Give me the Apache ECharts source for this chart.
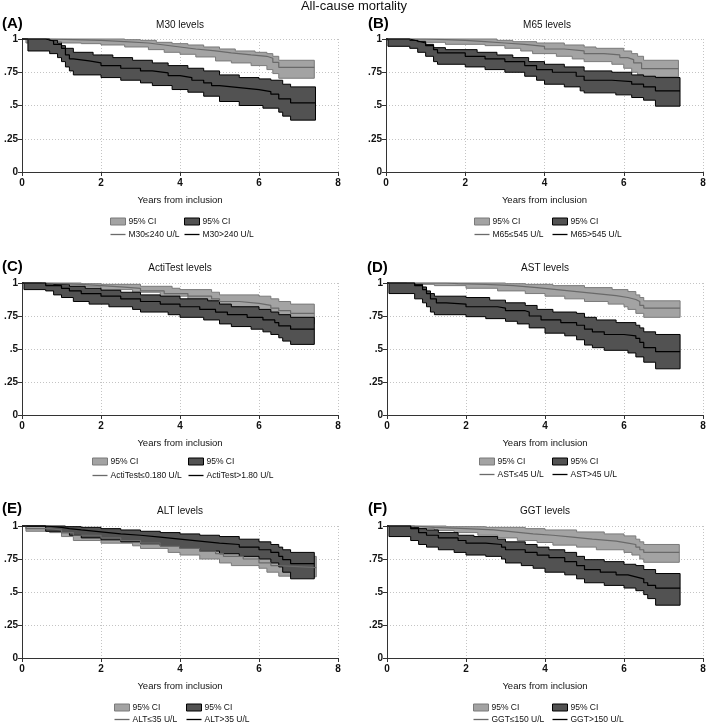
<!DOCTYPE html>
<html>
<head>
<meta charset="utf-8">
<title>All-cause mortality</title>
<script src="https://cdn.jsdelivr.net/npm/echarts@6/dist/echarts.min.js"></script>
<style>
  html, body { margin: 0; padding: 0; background: #fff; }
  #chart { width: 709px; height: 726px; }
</style>
</head>
<body>
<div id="chart"></div>
<script>
// labels
const mainTitle = 'All-cause mortality';
const panelLetters = ['(A)', '(B)', '(C)', '(D)', '(E)', '(F)'];
const panelTitles = ['M30 levels', 'M65 levels', 'ActiTest levels', 'AST levels', 'ALT levels', 'GGT levels'];
const lowLabels = ['M30≤240 U/L', 'M65≤545 U/L', 'ActiTest≤0.180 U/L', 'AST≤45 U/L', 'ALT≤35 U/L', 'GGT≤150 U/L'];
const highLabels = ['M30>240 U/L', 'M65>545 U/L', 'ActiTest>1.80 U/L', 'AST>45 U/L', 'ALT>35 U/L', 'GGT>150 U/L'];
const ciLabel = '95% CI';
const xAxisTitle = 'Years from inclusion';
const yTickText = ['0', '.25', '.5', '.75', '1'];

// survival curves: [years, survival]
// _S = estimate, _L = lower 95% limit, _U = upper 95% limit
const m30Low_S = [[0,1],[0.7,0.995],[1.3,0.99],[2.0,0.98],[2.6,0.97],[3.2,0.955],[3.6,0.94],[4.0,0.925],[4.4,0.91],[4.9,0.895],[5.3,0.88],[5.8,0.87],[6.2,0.855],[6.35,0.825],[6.5,0.787],[7.4,0.787]];
const m30Low_L = [[0,1],[0.1,0.97],[0.25,0.98],[1.0,0.97],[1.5,0.965],[2.0,0.955],[2.6,0.94],[3.2,0.92],[3.6,0.9],[4.0,0.885],[4.4,0.865],[4.9,0.835],[5.3,0.82],[5.8,0.8],[6.2,0.77],[6.35,0.74],[6.5,0.705],[7.4,0.705]];
const m30Low_U = [[0,1],[2.6,0.995],[3.0,0.99],[3.4,0.975],[3.8,0.965],[4.2,0.955],[4.6,0.94],[5.0,0.925],[5.4,0.91],[5.9,0.9],[6.2,0.89],[6.35,0.87],[6.5,0.84],[7.4,0.84]];
const m30High_S = [[0,1],[0.6,0.985],[0.8,0.96],[1.0,0.93],[1.1,0.88],[1.2,0.85],[1.3,0.835],[1.7,0.82],[2.0,0.8],[2.5,0.78],[3.0,0.76],[3.3,0.745],[3.7,0.725],[4.0,0.71],[4.3,0.69],[4.6,0.67],[4.8,0.65],[5.0,0.635],[5.5,0.62],[6.0,0.605],[6.3,0.585],[6.5,0.55],[6.8,0.52],[7.43,0.52]];
const m30High_L = [[0,1],[0.15,0.91],[0.7,0.89],[0.9,0.86],[1.0,0.83],[1.1,0.79],[1.2,0.76],[1.3,0.73],[2.0,0.71],[2.5,0.69],[3.0,0.67],[3.3,0.65],[3.8,0.62],[4.2,0.6],[4.6,0.57],[5.0,0.53],[5.5,0.5],[6.1,0.48],[6.5,0.45],[6.6,0.42],[6.8,0.39],[7.43,0.39]];
const m30High_U = [[0,1],[0.7,0.99],[0.9,0.97],[1.0,0.95],[1.1,0.93],[1.3,0.9],[1.8,0.88],[2.3,0.86],[2.8,0.84],[3.3,0.82],[3.7,0.8],[4.2,0.78],[4.6,0.76],[5.0,0.73],[5.5,0.71],[6.0,0.7],[6.3,0.69],[6.6,0.66],[6.8,0.64],[7.43,0.64]];

const m65Low_S = [[0,1],[1.0,0.995],[1.5,0.99],[2.0,0.98],[2.5,0.97],[3.0,0.96],[3.5,0.945],[4.0,0.925],[4.5,0.91],[5.0,0.89],[5.5,0.88],[5.9,0.86],[6.1,0.845],[6.25,0.82],[6.45,0.777],[7.38,0.777]];
const m65Low_L = [[0,1],[0.05,0.985],[1.0,0.975],[1.5,0.96],[2.5,0.95],[3.0,0.93],[3.4,0.91],[3.7,0.89],[4.3,0.87],[4.7,0.85],[5.0,0.83],[5.7,0.81],[6.0,0.78],[6.2,0.75],[6.35,0.73],[6.5,0.715],[7.38,0.715]];
const m65Low_U = [[0,1],[2.8,0.99],[3.2,0.98],[3.8,0.97],[4.5,0.955],[5.0,0.94],[5.3,0.93],[6.0,0.91],[6.2,0.89],[6.35,0.87],[6.5,0.84],[7.38,0.84]];
const m65High_S = [[0,1],[0.6,0.985],[0.8,0.97],[1.0,0.95],[1.2,0.92],[1.3,0.895],[2.0,0.87],[2.5,0.85],[3.0,0.83],[3.5,0.8],[3.8,0.77],[4.2,0.75],[4.8,0.72],[5.0,0.69],[5.7,0.68],[6.2,0.66],[6.5,0.64],[6.8,0.61],[7.42,0.61]];
const m65High_L = [[0,1],[0.05,0.945],[0.6,0.93],[0.8,0.9],[1.0,0.87],[1.2,0.83],[1.3,0.81],[2.0,0.79],[2.5,0.77],[3.0,0.75],[3.5,0.72],[3.8,0.69],[4.0,0.66],[4.5,0.64],[4.9,0.61],[5.0,0.595],[5.8,0.58],[6.2,0.56],[6.5,0.54],[6.8,0.495],[7.42,0.495]];
const m65High_U = [[0,1],[0.6,0.99],[0.8,0.98],[1.0,0.96],[1.2,0.935],[1.5,0.92],[2.3,0.9],[2.8,0.88],[3.2,0.86],[3.6,0.83],[4.0,0.81],[4.5,0.79],[5.0,0.76],[5.7,0.75],[6.2,0.73],[6.5,0.72],[6.8,0.71],[7.42,0.71]];

const actiLow_S = [[0,1],[0.5,0.995],[1.0,0.99],[1.5,0.98],[2.0,0.97],[2.5,0.96],[3.0,0.94],[3.6,0.92],[4.2,0.9],[4.8,0.88],[5.0,0.86],[5.5,0.845],[6.0,0.83],[6.3,0.81],[6.5,0.79],[6.8,0.77],[7.4,0.77]];
const actiLow_L = [[0,1],[0.5,0.99],[1.2,0.97],[2.0,0.95],[2.8,0.93],[3.5,0.9],[4.2,0.87],[4.8,0.84],[5.0,0.82],[5.5,0.8],[6.0,0.77],[6.4,0.74],[6.8,0.69],[7.4,0.69]];
const actiLow_U = [[0,1],[1.5,0.995],[2.0,0.99],[3.0,0.975],[3.8,0.96],[4.0,0.95],[4.8,0.93],[5.0,0.91],[6.0,0.9],[6.3,0.88],[6.5,0.86],[6.8,0.84],[7.4,0.84]];
const actiHigh_S = [[0,1],[0.6,0.98],[1.0,0.96],[1.2,0.94],[1.5,0.92],[2.0,0.9],[2.5,0.88],[3.0,0.86],[3.5,0.84],[4.0,0.82],[4.5,0.8],[4.9,0.78],[5.2,0.76],[5.7,0.74],[6.1,0.72],[6.4,0.7],[6.5,0.675],[6.8,0.65],[7.4,0.65]];
const actiHigh_L = [[0,1],[0.05,0.95],[0.6,0.94],[0.8,0.91],[1.0,0.89],[1.3,0.86],[1.7,0.84],[2.2,0.82],[2.8,0.8],[3.0,0.78],[3.7,0.76],[4.0,0.74],[4.6,0.72],[5.0,0.69],[5.3,0.67],[5.8,0.65],[6.1,0.63],[6.3,0.61],[6.5,0.585],[6.6,0.56],[6.8,0.535],[7.4,0.535]];
const actiHigh_U = [[0,1],[0.6,0.995],[0.8,0.99],[1.2,0.975],[1.6,0.96],[2.0,0.945],[2.5,0.93],[3.0,0.91],[3.5,0.9],[4.0,0.88],[4.7,0.865],[5.0,0.84],[5.3,0.82],[6.0,0.8],[6.3,0.78],[6.5,0.76],[6.8,0.74],[7.4,0.74]];

const astLow_S = [[0,1],[1.5,0.995],[1.8,0.99],[2.5,0.98],[3.2,0.965],[3.8,0.95],[4.3,0.935],[4.8,0.92],[5.3,0.905],[5.8,0.89],[6.1,0.875],[6.3,0.86],[6.4,0.83],[6.5,0.81],[7.42,0.81]];
const astLow_L = [[0,1],[0.5,0.99],[1.2,0.98],[2.0,0.96],[2.8,0.94],[3.5,0.92],[4.0,0.9],[4.5,0.88],[5.0,0.86],[5.6,0.84],[6.0,0.82],[6.1,0.8],[6.3,0.77],[6.5,0.74],[7.42,0.74]];
const astLow_U = [[0,1],[3.0,0.995],[3.5,0.99],[4.2,0.98],[5.0,0.965],[5.7,0.95],[6.1,0.935],[6.3,0.91],[6.4,0.89],[6.5,0.865],[7.42,0.865]];
const astHigh_S = [[0,1],[0.7,0.98],[0.9,0.95],[1.0,0.92],[1.1,0.88],[1.25,0.85],[1.5,0.84],[2.0,0.82],[2.8,0.81],[3.0,0.79],[3.5,0.78],[3.6,0.75],[3.9,0.72],[4.4,0.7],[4.8,0.68],[5.0,0.65],[5.2,0.63],[5.5,0.61],[6.0,0.6],[6.3,0.58],[6.4,0.55],[6.5,0.51],[6.8,0.48],[7.42,0.48]];
const astHigh_L = [[0,1],[0.05,0.92],[0.7,0.88],[0.9,0.85],[1.0,0.82],[1.1,0.78],[1.2,0.76],[2.0,0.745],[2.5,0.73],[3.0,0.71],[3.3,0.69],[3.6,0.66],[4.0,0.62],[4.5,0.6],[4.8,0.57],[5.0,0.53],[5.2,0.51],[5.5,0.49],[6.1,0.47],[6.3,0.44],[6.5,0.4],[6.8,0.35],[7.42,0.35]];
const astHigh_U = [[0,1],[0.7,0.99],[0.9,0.97],[1.0,0.94],[1.1,0.92],[1.2,0.9],[2.0,0.89],[2.6,0.87],[3.0,0.85],[3.5,0.83],[3.8,0.8],[4.2,0.78],[4.8,0.77],[5.0,0.74],[5.3,0.72],[5.8,0.7],[6.3,0.68],[6.4,0.66],[6.5,0.63],[6.8,0.61],[7.42,0.61]];

const altLow_S = [[0,1],[0.1,0.98],[0.7,0.97],[1.0,0.95],[1.3,0.93],[2.0,0.91],[2.5,0.89],[3.0,0.87],[3.5,0.85],[4.0,0.83],[4.5,0.81],[4.9,0.79],[5.1,0.77],[5.6,0.75],[6.0,0.72],[6.3,0.7],[6.5,0.685],[7.45,0.685]];
const altLow_L = [[0,1],[0.1,0.96],[0.7,0.95],[1.0,0.92],[1.3,0.89],[2.0,0.87],[2.8,0.85],[3.0,0.83],[3.7,0.8],[4.0,0.78],[4.5,0.75],[5.0,0.72],[5.3,0.7],[6.0,0.68],[6.2,0.65],[6.5,0.62],[6.8,0.615],[7.45,0.615]];
const altLow_U = [[0,1],[0.6,0.995],[1.0,0.99],[1.5,0.97],[2.0,0.96],[2.5,0.94],[3.2,0.92],[3.8,0.9],[4.2,0.88],[4.6,0.86],[5.0,0.84],[5.5,0.82],[6.0,0.8],[6.3,0.785],[6.5,0.77],[7.45,0.77]];
const altHigh_S = [[0,1],[0.6,0.99],[1.0,0.98],[1.2,0.97],[1.5,0.955],[2.0,0.94],[2.5,0.93],[3.0,0.915],[3.5,0.9],[4.0,0.885],[4.5,0.87],[5.0,0.86],[5.5,0.84],[6.0,0.82],[6.3,0.8],[6.5,0.77],[6.6,0.745],[6.8,0.715],[7.4,0.715]];
const altHigh_L = [[0,1],[0.6,0.96],[1.0,0.95],[1.2,0.93],[1.5,0.91],[2.0,0.895],[2.5,0.88],[3.0,0.865],[3.5,0.85],[4.0,0.83],[4.5,0.81],[5.0,0.79],[5.5,0.77],[6.0,0.75],[6.3,0.72],[6.5,0.69],[6.6,0.65],[6.8,0.6],[7.4,0.6]];
const altHigh_U = [[0,1],[1.1,0.995],[1.5,0.99],[2.0,0.98],[2.5,0.97],[3.0,0.96],[3.5,0.95],[4.0,0.94],[4.5,0.93],[5.0,0.92],[5.5,0.9],[6.0,0.88],[6.3,0.86],[6.5,0.84],[6.6,0.82],[6.8,0.8],[7.4,0.8]];

const ggtLow_S = [[0,1],[0.7,0.99],[1.2,0.98],[2.0,0.97],[2.7,0.955],[3.2,0.94],[3.7,0.93],[4.2,0.915],[4.7,0.9],[5.2,0.885],[5.8,0.87],[6.1,0.86],[6.3,0.84],[6.4,0.82],[6.5,0.8],[7.4,0.8]];
const ggtLow_L = [[0,1],[0.7,0.98],[1.2,0.965],[1.7,0.95],[2.3,0.93],[2.8,0.91],[3.3,0.89],[3.8,0.875],[4.2,0.855],[4.8,0.84],[5.3,0.82],[6.0,0.8],[6.2,0.78],[6.4,0.75],[6.5,0.725],[7.4,0.725]];
const ggtLow_U = [[0,1],[1.5,0.995],[2.5,0.99],[3.5,0.98],[4.0,0.97],[4.8,0.955],[5.5,0.94],[6.0,0.925],[6.3,0.9],[6.4,0.88],[6.5,0.86],[7.4,0.86]];
const ggtHigh_S = [[0,1],[0.6,0.98],[0.8,0.95],[1.0,0.93],[1.3,0.91],[1.8,0.89],[2.0,0.87],[2.5,0.86],[2.9,0.84],[3.0,0.82],[3.5,0.8],[3.8,0.78],[4.1,0.76],[4.5,0.73],[4.8,0.7],[5.0,0.67],[5.4,0.65],[5.8,0.63],[6.1,0.615],[6.3,0.6],[6.5,0.57],[6.6,0.55],[6.8,0.53],[7.42,0.53]];
const ggtHigh_L = [[0,1],[0.05,0.92],[0.6,0.89],[0.8,0.86],[1.0,0.84],[1.3,0.82],[1.7,0.8],[2.0,0.78],[2.5,0.77],[2.9,0.75],[3.0,0.72],[3.4,0.7],[3.7,0.68],[4.0,0.65],[4.5,0.63],[4.8,0.6],[5.0,0.57],[5.5,0.55],[6.0,0.53],[6.3,0.51],[6.5,0.48],[6.6,0.45],[6.8,0.4],[7.42,0.4]];
const ggtHigh_U = [[0,1],[0.6,0.99],[0.8,0.98],[1.0,0.97],[1.3,0.95],[1.8,0.93],[2.2,0.92],[2.8,0.9],[3.0,0.88],[3.5,0.86],[3.8,0.84],[4.1,0.82],[4.5,0.8],[4.8,0.77],[5.0,0.745],[5.5,0.73],[6.0,0.71],[6.3,0.7],[6.5,0.67],[6.8,0.64],[7.42,0.64]];

// per panel: [low S, low L, low U, high S, high L, high U]
const curves = [
  [m30Low_S, m30Low_L, m30Low_U, m30High_S, m30High_L, m30High_U],
  [m65Low_S, m65Low_L, m65Low_U, m65High_S, m65High_L, m65High_U],
  [actiLow_S, actiLow_L, actiLow_U, actiHigh_S, actiHigh_L, actiHigh_U],
  [astLow_S, astLow_L, astLow_U, astHigh_S, astHigh_L, astHigh_U],
  [altLow_S, altLow_L, altLow_U, altHigh_S, altHigh_L, altHigh_U],
  [ggtLow_S, ggtLow_L, ggtLow_U, ggtHigh_S, ggtHigh_L, ggtHigh_U]
];

// layout (pixels)
const grids = [[22, 39, 316, 133], [386, 39, 317, 133], [22, 283, 316, 132], [387, 283, 316, 132], [22, 526, 316, 132], [387, 526, 316, 132]];
const titlePos = [[180, 20], [547, 20], [180, 263], [545, 263], [180, 506], [545, 506]];
const letterPos = [[2, 16], [368, 16], [2, 259], [367, 260], [2, 501], [368, 501]];
// col1 x, col2 x, top, gap between rows
const legendPos = [[110, 184, 217, 4], [474, 552, 217, 4], [92, 188, 457, 5], [479, 552, 457, 4], [114, 186, 703, 3], [473, 552, 703, 3]];

const FONT = "'Liberation Sans', Arial, sans-serif";
const LIGHT_FILL = '#a3a3a3', LIGHT_EDGE = '#7a7a7a', LIGHT_LINE = '#6a6a6a';
const DARK_FILL = '#525252', DARK_EDGE = '#000', DARK_LINE = '#000';
const LINE_ICON = 'path://M0,0H16V1.4H0Z';

// turn step points into the outline of a step function
function stepPath(pts) {
  const out = [];
  pts.forEach((p, i) => {
    if (i > 0) out.push([p[0], pts[i - 1][1]]);
    out.push([p[0], p[1]]);
  });
  return out;
}

function bandSeries(name, idx, lower, upper, fill, edge) {
  const verts = stepPath(upper).concat(stepPath(lower).reverse());
  return {
    type: 'custom', name: name, xAxisIndex: idx, yAxisIndex: idx,
    silent: true, z: 2,
    itemStyle: { color: fill, borderColor: edge },
    data: verts,
    renderItem: function (params, api) {
      if (params.dataIndexInside !== 0) return null;
      const pts = [];
      for (let i = 0; i < verts.length; i++) {
        pts.push(api.coord([api.value(0, i), api.value(1, i)]));
      }
      return {
        type: 'polygon',
        shape: { points: pts },
        style: { fill: fill, stroke: edge, lineWidth: 1 }
      };
    }
  };
}

function lineSeries(name, idx, data, color) {
  return {
    type: 'line', name: name, xAxisIndex: idx, yAxisIndex: idx,
    step: 'end', symbol: 'none', silent: true, z: 3,
    lineStyle: { color: color, width: 1.2 },
    itemStyle: { color: color },
    data: data
  };
}

const option = {
  animation: false,
  backgroundColor: '#fff',
  textStyle: { fontFamily: FONT },
  title: [{ text: mainTitle, left: 354, top: 0, textAlign: 'center', padding: 0,
            textStyle: { fontSize: 13, fontWeight: 'normal', color: '#111', fontFamily: FONT } }],
  grid: [], xAxis: [], yAxis: [], legend: [], series: []
};

for (let p = 0; p < 6; p++) {
  const g = grids[p];
  const c = curves[p];
  option.grid.push({ left: g[0], top: g[1], width: g[2], height: g[3] });
  option.title.push({ text: panelTitles[p], left: titlePos[p][0], top: titlePos[p][1], textAlign: 'center', padding: 0,
    textStyle: { fontSize: 10, fontWeight: 'normal', color: '#111', fontFamily: FONT } });
  option.title.push({ text: panelLetters[p], left: letterPos[p][0], top: letterPos[p][1], padding: 0,
    textStyle: { fontSize: 15, fontWeight: 'bold', color: '#000', fontFamily: FONT } });

  option.xAxis.push({
    type: 'value', gridIndex: p, min: 0, max: 8, interval: 2,
    name: xAxisTitle, nameLocation: 'middle', nameGap: 23,
    nameTextStyle: { fontSize: 9.5, color: '#111', fontFamily: FONT },
    axisLine: { show: true, lineStyle: { color: '#333', width: 1 } },
    axisTick: { show: true, length: 4, lineStyle: { color: '#333' } },
    axisLabel: { fontSize: 10, fontWeight: 'bold', color: '#111', margin: 6, fontFamily: FONT },
    splitLine: { show: true, lineStyle: { color: '#c4c4c4', type: [1, 2], width: 1 } }
  });
  option.yAxis.push({
    type: 'value', gridIndex: p, min: 0, max: 1, interval: 0.25,
    axisLine: { show: true, lineStyle: { color: '#333', width: 1 } },
    axisTick: { show: true, length: 4, lineStyle: { color: '#333' } },
    axisLabel: { fontSize: 10, fontWeight: 'bold', color: '#111', margin: 4, fontFamily: FONT,
                 formatter: v => yTickText[Math.round(v * 4)] },
    splitLine: { show: true, lineStyle: { color: '#c4c4c4', type: [1, 2], width: 1 } }
  });

  const ciLow = ciLabel + ' ' + lowLabels[p];
  const ciHigh = ciLabel + ' ' + highLabels[p];
  option.series.push(bandSeries(ciLow, p, c[1], c[2], LIGHT_FILL, LIGHT_EDGE));
  option.series.push(bandSeries(ciHigh, p, c[4], c[5], DARK_FILL, DARK_EDGE));
  option.series.push(lineSeries(lowLabels[p], p, c[0], LIGHT_LINE));
  option.series.push(lineSeries(highLabels[p], p, c[3], DARK_LINE));

  const lp = legendPos[p];
  const legendBase = {
    orient: 'vertical', top: lp[2], itemWidth: 15, itemHeight: 7, itemGap: lp[3], padding: 0,
    selectedMode: false,
    formatter: name => (name.indexOf(ciLabel) === 0 ? ciLabel : name),
    textStyle: { fontSize: 8.5, lineHeight: 9, color: '#111', fontFamily: FONT, padding: [0, 0, 0, -2] }
  };
  option.legend.push(Object.assign({}, legendBase, {
    left: lp[0],
    data: [
      { name: ciLow, icon: 'rect', itemStyle: { color: LIGHT_FILL, borderColor: LIGHT_EDGE, borderWidth: 1 } },
      { name: lowLabels[p], icon: LINE_ICON, itemStyle: { color: LIGHT_LINE, borderWidth: 0 } }
    ]
  }));
  option.legend.push(Object.assign({}, legendBase, {
    left: lp[1],
    data: [
      { name: ciHigh, icon: 'rect', itemStyle: { color: DARK_FILL, borderColor: DARK_EDGE, borderWidth: 1 } },
      { name: highLabels[p], icon: LINE_ICON, itemStyle: { color: DARK_LINE, borderWidth: 0 } }
    ]
  }));
}

const chart = echarts.init(document.getElementById('chart'), null, { renderer: 'canvas' });
chart.setOption(option);
</script>
</body>
</html>
